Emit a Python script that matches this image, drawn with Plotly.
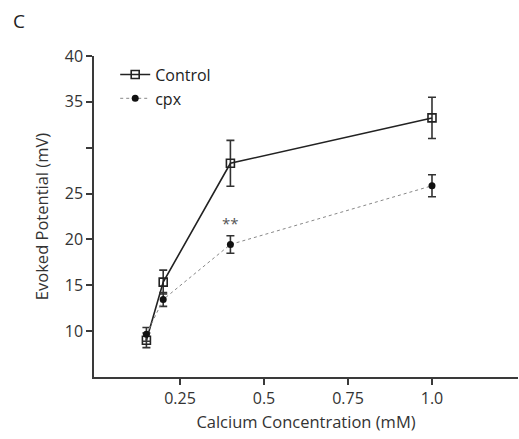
import plotly.graph_objects as go

calcium = [0.15, 0.2, 0.4, 1.0]
control_mean = [9.0, 15.35, 28.3, 33.25]
control_err = [0.8, 1.3, 2.5, 2.25]
cpx_mean = [9.65, 13.45, 19.45, 25.85]
cpx_err = [0.75, 0.75, 0.95, 1.2]
y_ticks = [10, 15, 20, 25, 30, 35, 40]
y_labels = ["10", "15", "20", "25", "", "35", "40"]
x_ticks = [0.25, 0.5, 0.75, 1.0]
x_labels = ["0.25", "0.5", "0.75", "1.0"]

FONT = "Open Sans, Noto Sans, sans-serif"
AX = "#3a3a3a"

fig = go.Figure()
fig.add_trace(go.Scatter(
    x=calcium, y=control_mean, name="Control", mode="lines+markers",
    line=dict(color="#222222", width=1.6),
    marker=dict(symbol="square-open", size=8, color="#222222", line=dict(width=1.6)),
    error_y=dict(type="data", array=control_err, color="#333333", thickness=1.6, width=4),
))
fig.add_trace(go.Scatter(
    x=calcium, y=cpx_mean, name="cpx", mode="lines+markers",
    line=dict(color="#888888", width=1.0, dash="dot"),
    marker=dict(symbol="circle", size=7, color="#111111"),
    error_y=dict(type="data", array=cpx_err, color="#333333", thickness=1.6, width=4),
))
fig.add_annotation(x=calcium[2], y=cpx_mean[2] + cpx_err[2], text="**", showarrow=False,
                   yshift=13, font=dict(size=15, color="#555555", family=FONT))
fig.add_annotation(xref="paper", yref="paper", x=-0.195, y=1.155, xanchor="left",
                   text="C", showarrow=False, font=dict(size=19, color="#222222", family=FONT))

fig.update_layout(
    width=519, height=439,
    margin=dict(l=94, r=1, t=56, b=62),
    paper_bgcolor="white", plot_bgcolor="white",
    font=dict(family=FONT, size=16, color="#333333"),
    showlegend=True,
    legend=dict(x=0.05, y=0.995, xanchor="left", yanchor="top",
                font=dict(size=16, color="#222222", family=FONT),
                bgcolor="rgba(0,0,0,0)", tracegroupgap=0, itemwidth=30),
    xaxis=dict(range=[-0.006, 1.256], tickvals=x_ticks, ticktext=x_labels,
               showline=True, linecolor=AX, linewidth=1.5, ticks="outside",
               ticklen=6, tickwidth=1.5, tickcolor=AX, showgrid=False, zeroline=False,
               title=dict(text="Calcium Concentration (mM)", font=dict(size=16.5), standoff=8)),
    yaxis=dict(range=[5, 40], tickvals=y_ticks, ticktext=y_labels,
               showline=True, linecolor=AX, linewidth=1.5, ticks="outside",
               ticklen=6, tickwidth=1.5, tickcolor=AX, showgrid=False, zeroline=False,
               title=dict(text="Evoked Potential (mV)", font=dict(size=16.5), standoff=12)),
)
fig.write_html("out.html")
